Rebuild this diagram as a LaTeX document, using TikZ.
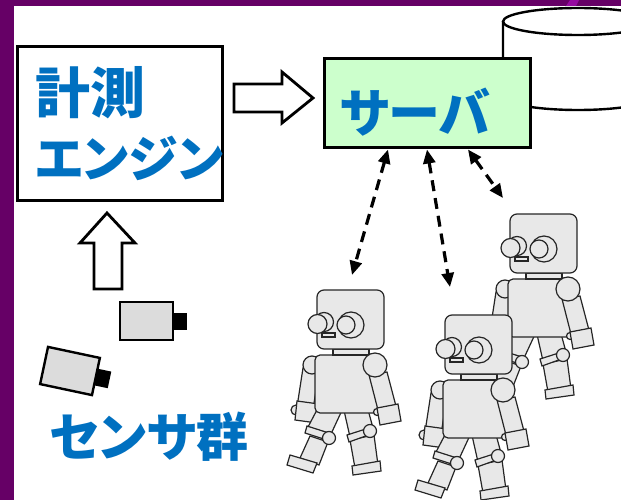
\documentclass[tikz,border=0pt]{standalone}
\usepackage{fontspec}
\usepackage{tikz}
\usetikzlibrary{arrows.meta}
\newfontfamily\jpfont{Noto Sans CJK JP}[RawFeature=+palt]
\definecolor{framepurple}{RGB}{102,0,102}
\definecolor{framemagenta}{RGB}{150,10,160}
\definecolor{textblue}{RGB}{0,112,192}
\definecolor{servergreen}{RGB}{204,255,204}
\definecolor{partgray}{RGB}{232,232,232}
\definecolor{camgray}{RGB}{220,220,220}

\tikzset{
  part/.style={draw=black!85, fill=partgray, line width=1.2pt},
  % walking robot, origin at the top left corner of the head
  pics/walker/.style={code={
    % arm behind the body
    \draw[part] (-14,78) -- (2,80) -- (-4,120) -- (-20,117) -- cycle;
    \draw[part] (-5,75) circle (9);
    \draw[part] (-21,120) circle (5);
    \draw[part] (-20,111) -- (2,114) -- (0,133) -- (-22,130) -- cycle;
    % left leg
    \draw[part] (-7,146) -- (11,152) -- (2,175) -- (-17,168) -- cycle;
    \draw[part] (-27,165) -- (0,173) -- (-4,183) -- (-30,175) -- cycle;
    \draw[part] (2,116) -- (27,116) -- (14,144) -- (-9,137) -- cycle;
    \draw[part] (-10,136) -- (15,144) -- (13,151) -- (-12,143) -- cycle;
    \draw[part] (12,148) circle (6.5);
    % right leg
    \draw[part] (33,150) -- (57,145) -- (61,175) -- (38,178) -- cycle;
    \draw[part] (35,176) -- (63,171) -- (64,181) -- (36,185) -- cycle;
    \draw[part] (26,116) -- (50,116) -- (56,138) -- (33,147) -- cycle;
    \draw[part] (30,145) -- (55,137) -- (57,143) -- (32,152) -- cycle;
    \draw[part] (53,141) circle (6.5);
    % body, neck, head
    \draw[part, rounded corners=5pt] (-2,65) rectangle (67,123);
    \draw[part] (16,59) rectangle (52,65);
    \draw[part, rounded corners=7pt] (0,0) rectangle (67,59);
    \draw[part] (7,32) circle (9.5);
    \draw[part] (0.5,34) circle (9.5);
    \draw[part] (34,35) circle (13);
    \draw[part] (29,35) circle (9);
    \draw[part] (5,43) rectangle (18,47);
    % front arm
    \draw[part] (52,85) -- (70,82) -- (80,120) -- (62,124) -- cycle;
    \draw[part] (60,122) circle (3.5);
    \draw[part] (60,118) -- (81,114) -- (84,131) -- (63,135) -- cycle;
    \draw[part] (58,75) circle (12);
  }},
  pics/camera/.style={code={
    \draw[fill=camgray, line width=2.4pt] (-26.5,-19) rectangle (26.5,19);
    \fill (26.5,-8) rectangle (40.5,9);
  }}
}

\begin{document}
\begin{tikzpicture}[x=1pt, y=-1pt,
    box/.style={draw=black, line width=3pt, inner sep=0pt},
    bluetext/.style={text=textblue, font=\jpfont\bfseries\fontsize{52}{62}\selectfont},
    hollow/.style={draw=black, fill=white, line width=2.8pt, line join=miter},
    link/.style={{Triangle[length=14pt,width=12pt]}-{Triangle[length=14pt,width=12pt]},
      line width=3.2pt, dash pattern=on 11pt off 7pt}]
  \useasboundingbox (0,0) rectangle (621,500);
  \clip (0,0) rectangle (621,500);

  % frame
  \fill[framepurple] (0,0) rectangle (621,6);
  \fill[framepurple] (0,0) rectangle (14,500);
  \fill[framemagenta] (566,6) -- (570,0) -- (579,0) -- (576,6) -- cycle;

  % database
  \draw[line width=2.4pt, fill=white] (503,21.5) -- (503,96.5)
    arc[start angle=180, end angle=0, x radius=75, y radius=13.5] -- (653,21.5);
  \draw[line width=2.4pt, fill=white] (578,21.5) ellipse [x radius=75, y radius=13.5];

  \node[box, bluetext, minimum width=205pt, minimum height=153pt, text width=169pt, align=left]
    (engine) at (119.5,123.5) {{\fontsize{55}{62}\selectfont 計測}\\[2pt]{\fontsize{50}{62}\selectfont エンジン}};
  \node[box, bluetext, fill=servergreen, minimum width=206pt, minimum height=89pt, text width=174pt, align=left]
    (server) at (427,103.5) {\raisebox{-9pt}[\height][\depth]{サーバ}};
  \node[bluetext, anchor=west, inner sep=0pt] (sensors) at (49,437) {センサ群};

  % data flow
  \coordinate (feed) at (234,98);
  \draw[hollow] (feed) ++(0,-14) -- ++(48,0) -- ++(0,-12) -- ++(31,26) -- ++(-31,25)
    -- ++(0,-11) -- ++(-48,0) -- cycle;
  \coordinate (rise) at (107,213);
  \draw[hollow] (rise) -- ++(28,30) -- ++(-13,0) -- ++(0,46) -- ++(-28,0) -- ++(0,-46)
    -- ++(-14,0) -- cycle;

  % cameras
  \pic at (146.5,321) {camera};
  \pic[rotate=-12] at (70,371) {camera};

  % robots
  \pic at (510,214) {walker};
  \pic at (317,290) {walker};
  \pic at (445,315) {walker};

  \coordinate (r1) at (352,275);
  \coordinate (r2) at (450,287);
  \coordinate (r3) at (503,198);
  \draw[link] ([xshift=-39pt]server.south) -- (r1);
  \draw[link] (server.south) -- (r2);
  \draw[link] ([xshift=41pt]server.south) -- (r3);
\end{tikzpicture}
\end{document}
